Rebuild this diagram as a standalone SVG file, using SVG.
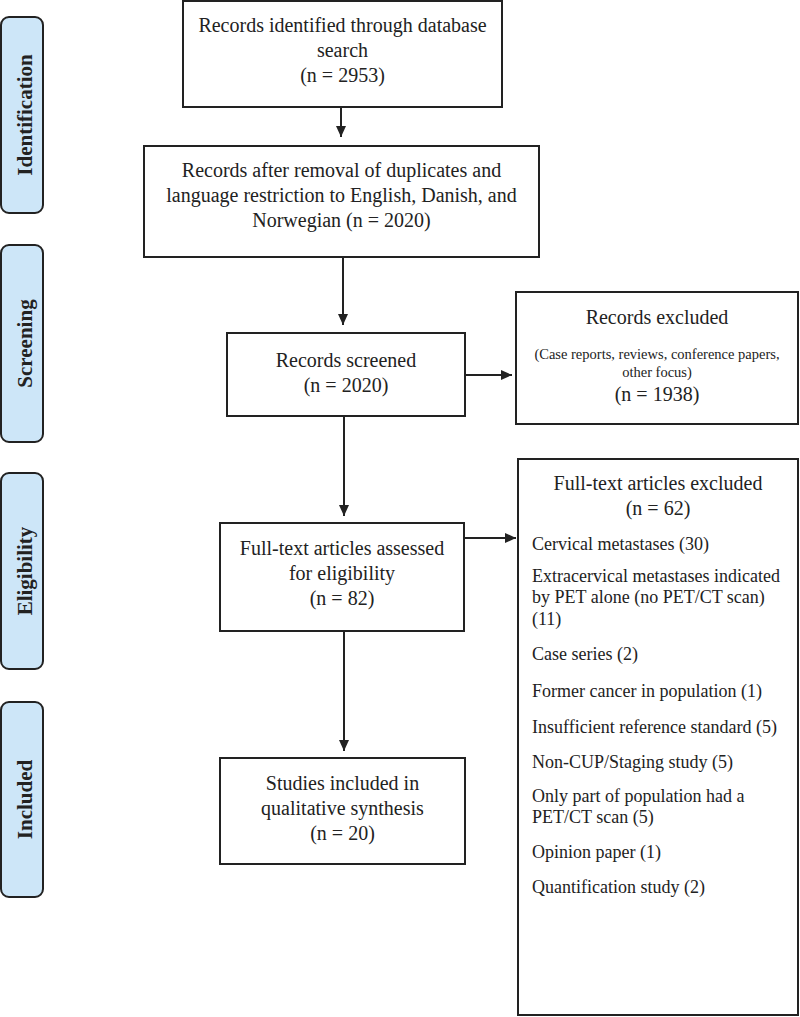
<svg xmlns="http://www.w3.org/2000/svg" width="800" height="1017" viewBox="0 0 800 1017">
<style>
.box{fill:#fff;stroke:#222;stroke-width:2}
.lab{fill:#cde6f8;stroke:#222;stroke-width:2}
.t{font-family:"Liberation Serif","Times New Roman",serif;font-size:20px;fill:#222;text-anchor:middle}
.s{font-family:"Liberation Serif","Times New Roman",serif;font-size:14.5px;fill:#222;text-anchor:middle}
.l{font-family:"Liberation Serif","Times New Roman",serif;font-size:18px;fill:#222}
.side{font-family:"Liberation Serif","Times New Roman",serif;font-size:21px;font-weight:bold;fill:#222;text-anchor:middle}
.c{stroke:#222;stroke-width:2;fill:none}
</style>
<defs>
<marker id="ah" markerWidth="12" markerHeight="12" refX="11" refY="5" orient="auto" markerUnits="userSpaceOnUse">
<path d="M0,0 L11,5 L0,10 Z" fill="#222"/>
</marker>
</defs>
<rect width="800" height="1017" fill="#fff"/>
<g id="label-identification">
<rect class="lab" x="1" y="17" width="42" height="196" rx="8"/>
<text class="side" transform="translate(32,115) rotate(-90)">Identification</text>
</g>
<g id="label-screening">
<rect class="lab" x="1" y="245" width="42" height="197" rx="8"/>
<text class="side" transform="translate(32,343.5) rotate(-90)">Screening</text>
</g>
<g id="label-eligibility">
<rect class="lab" x="1" y="473" width="42" height="196" rx="8"/>
<text class="side" transform="translate(32,571) rotate(-90)">Eligibility</text>
</g>
<g id="label-included">
<rect class="lab" x="1" y="702" width="42" height="195" rx="8"/>
<text class="side" transform="translate(32,799.5) rotate(-90)">Included</text>
</g>
<g id="connectors">
<line class="c" x1="341" y1="107" x2="341" y2="137" marker-end="url(#ah)"/>
<line class="c" x1="343" y1="257" x2="343" y2="325" marker-end="url(#ah)"/>
<line class="c" x1="344" y1="416" x2="344" y2="516" marker-end="url(#ah)"/>
<line class="c" x1="344" y1="631" x2="344" y2="751" marker-end="url(#ah)"/>
<line class="c" x1="461" y1="375" x2="512" y2="375" marker-end="url(#ah)"/>
<line class="c" x1="464" y1="538" x2="516" y2="538" marker-end="url(#ah)"/>
</g>
<g id="node-identified">
<rect class="box" x="183" y="1" width="319" height="106"/>
<text class="t" x="342.5" y="32">Records identified through database</text>
<text class="t" x="342.5" y="57">search</text>
<text class="t" x="342.5" y="82">(n = 2953)</text>
</g>
<g id="node-after-removal">
<rect class="box" x="144" y="146" width="395" height="111"/>
<text class="t" x="341.5" y="177">Records after removal of duplicates and</text>
<text class="t" x="341.5" y="202">language restriction to English, Danish, and</text>
<text class="t" x="341.5" y="227">Norwegian (n = 2020)</text>
</g>
<g id="node-screened">
<rect class="box" x="227" y="333" width="238" height="83"/>
<text class="t" x="346" y="367">Records screened</text>
<text class="t" x="346" y="392">(n = 2020)</text>
</g>
<g id="node-records-excluded">
<rect class="box" x="516" y="292" width="282" height="132"/>
<text class="t" x="657" y="324">Records excluded</text>
<text class="s" x="657" y="359">(Case reports, reviews, conference papers,</text>
<text class="s" x="657" y="377">other focus)</text>
<text class="t" x="657" y="401">(n = 1938)</text>
</g>
<g id="node-fulltext-assessed">
<rect class="box" x="220" y="523" width="244" height="108"/>
<text class="t" x="342" y="555">Full-text articles assessed</text>
<text class="t" x="342" y="580">for eligibility</text>
<text class="t" x="342" y="605">(n = 82)</text>
</g>
<g id="node-fulltext-excluded">
<rect class="box" x="518" y="459" width="280" height="556"/>
<text class="t" x="658" y="490">Full-text articles excluded</text>
<text class="t" x="658" y="515">(n = 62)</text>
<text class="l" x="532" y="550">Cervical metastases (30)</text>
<text class="l" x="532" y="582">Extracervical metastases indicated</text>
<text class="l" x="532" y="603">by PET alone (no PET/CT scan)</text>
<text class="l" x="532" y="625">(11)</text>
<text class="l" x="532" y="660">Case series (2)</text>
<text class="l" x="532" y="697">Former cancer in population (1)</text>
<text class="l" x="532" y="733">Insufficient reference standard (5)</text>
<text class="l" x="532" y="768">Non-CUP/Staging study (5)</text>
<text class="l" x="532" y="802">Only part of population had a</text>
<text class="l" x="532" y="823">PET/CT scan (5)</text>
<text class="l" x="532" y="858">Opinion paper (1)</text>
<text class="l" x="532" y="893">Quantification study (2)</text>
</g>
<g id="node-included">
<rect class="box" x="220" y="758" width="245" height="106"/>
<text class="t" x="342.5" y="790">Studies included in</text>
<text class="t" x="342.5" y="815">qualitative synthesis</text>
<text class="t" x="342.5" y="840">(n = 20)</text>
</g>
</svg>
